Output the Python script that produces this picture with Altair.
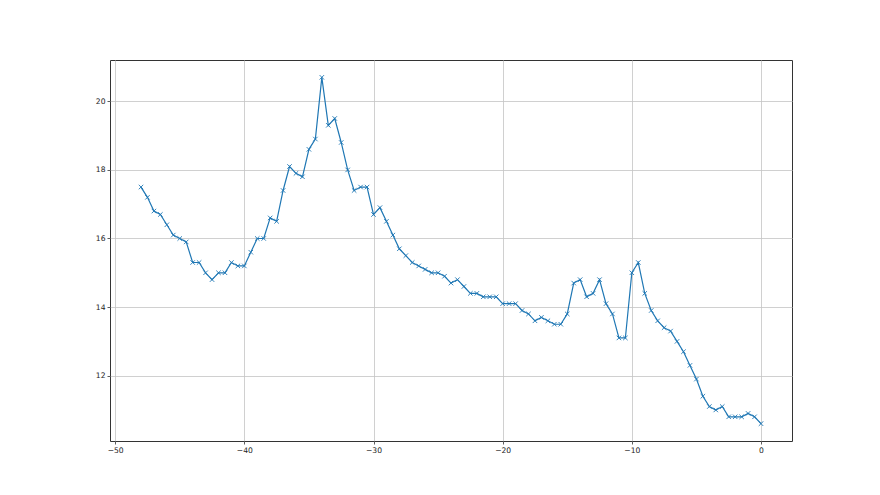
import altair as alt
import pandas as pd

x_values = [i * 0.5 - 48 for i in range(97)]
y_values = [
    17.5, 17.2, 16.8, 16.7, 16.4, 16.1, 16.0, 15.9, 15.3, 15.3,
    15.0, 14.8, 15.0, 15.0, 15.3, 15.2, 15.2, 15.6, 16.0, 16.0,
    16.6, 16.5, 17.4, 18.1, 17.9, 17.8, 18.6, 18.9, 20.7, 19.3,
    19.5, 18.8, 18.0, 17.4, 17.5, 17.5, 16.7, 16.9, 16.5, 16.1,
    15.7, 15.5, 15.3, 15.2, 15.1, 15.0, 15.0, 14.9, 14.7, 14.8,
    14.6, 14.4, 14.4, 14.3, 14.3, 14.3, 14.1, 14.1, 14.1, 13.9,
    13.8, 13.6, 13.7, 13.6, 13.5, 13.5, 13.8, 14.7, 14.8, 14.3,
    14.4, 14.8, 14.1, 13.8, 13.1, 13.1, 15.0, 15.3, 14.4, 13.9,
    13.6, 13.4, 13.3, 13.0, 12.7, 12.3, 11.9, 11.4, 11.1, 11.0,
    11.1, 10.8, 10.8, 10.8, 10.9, 10.8, 10.6,
]
x_ticks = [-50, -40, -30, -20, -10, 0]
y_ticks = [12, 14, 16, 18, 20]

df = pd.DataFrame({"x": x_values, "y": y_values})

xmin, xmax = min(x_values), max(x_values)
ymin, ymax = min(y_values), max(y_values)
xm = (xmax - xmin) * 0.05
ym = (ymax - ymin) * 0.05

axis_common = dict(
    title=None,
    domain=False,
    grid=True,
    gridColor="#c4c4c4",
    gridWidth=0.8,
    tickColor="#333333",
    tickSize=3,
    tickWidth=0.8,
    labelFont="DejaVu Sans",
    labelFontSize=7.6,
    labelColor="#222222",
    labelPadding=2,
    labelExpr="replace(format(datum.value, 'd'), '-', '\u2212')",
)

x_enc = alt.X(
    "x:Q",
    scale=alt.Scale(domain=[xmin - xm, xmax + xm], nice=False, zero=False),
    axis=alt.Axis(values=x_ticks, **axis_common),
)
y_enc = alt.Y(
    "y:Q",
    scale=alt.Scale(domain=[ymin - ym, ymax + ym], nice=False, zero=False),
    axis=alt.Axis(values=y_ticks, **axis_common),
)

base = alt.Chart(df)
line = base.mark_line(color="#1f77b4", strokeWidth=1.2).encode(x=x_enc, y=y_enc)
pts = base.mark_point(
    shape="M-1,-1L1,1M-1,1L1,-1",
    filled=False,
    color="#1f77b4",
    size=20,
    strokeWidth=0.9,
    opacity=1,
).encode(x=x_enc, y=y_enc)

chart = (
    alt.layer(line, pts)
    .properties(
        width=682,
        height=381,
        autosize=alt.AutoSizeParams(type="none"),
        padding={"left": 102, "top": 52, "right": 80, "bottom": 46},
        background="#ffffff",
    )
    .configure_view(stroke="#333333", strokeWidth=1)
    .configure_axisY(labelAlign="right")
)

chart.save("out.html", embed_options={"renderer": "svg", "actions": False})
